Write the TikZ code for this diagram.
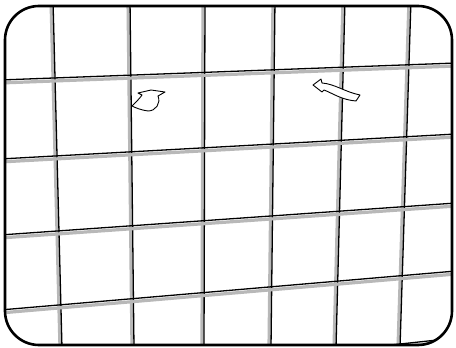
\documentclass[tikz,border=0pt]{standalone}
\usepackage{tikz}
\tikzset{
  frame/.style={draw=black,line width=2.6pt,rounded corners=34pt},
  bar/.style={draw=black,line width=1.3pt},
  barshade/.style={draw=black!28,line width=3.2pt},
  turn/.style={draw=black,fill=white,line width=0.9pt,line join=round},
}

\begin{document}
\begin{tikzpicture}[x=1pt,y=-1pt]
  \useasboundingbox (0,0) rectangle (456,348);
  \fill[white] (0,0) rectangle (456,348);
  \begin{scope}
    \clip[rounded corners=34pt] (5,6) rectangle (452,345);
    % wires, left to right (top x / bottom x)
    \foreach \xt/\xb in {53/62,130/134,205/204,275/271,345/336,411/400}{
      \draw[barshade] (\xt-2,0) -- (\xb-2,348);
      \draw[bar] (\xt,0) -- (\xb,348);
    }
    % wires, top to bottom (left y / right y)
    \foreach \yl/\yr in {80/63,159/134,235/203,310/271,387/338}{
      \draw[barshade] (0,\yl+3) -- (456,\yr+3);
      \draw[bar] (0,\yl) -- (456,\yr);
    }
  \end{scope}
  % turning arrows
  \draw[turn] (132,106) .. controls (137,101) and (140,98) .. (142,95)
    -- (138,93) -- (151,90) -- (165,92) -- (158,96)
    .. controls (161,103) and (156,111) .. (148,111)
    .. controls (141,110) and (136,108) .. cycle;
  \draw[turn] (313,85) -- (321,79) -- (322,83)
    .. controls (335,84) and (345,92) .. (360,95) -- (356,101)
    .. controls (342,100) and (332,93) .. (324,90) -- (322,92) -- cycle;
  \draw[frame] (5,6) rectangle (452,345);
\end{tikzpicture}
\end{document}
